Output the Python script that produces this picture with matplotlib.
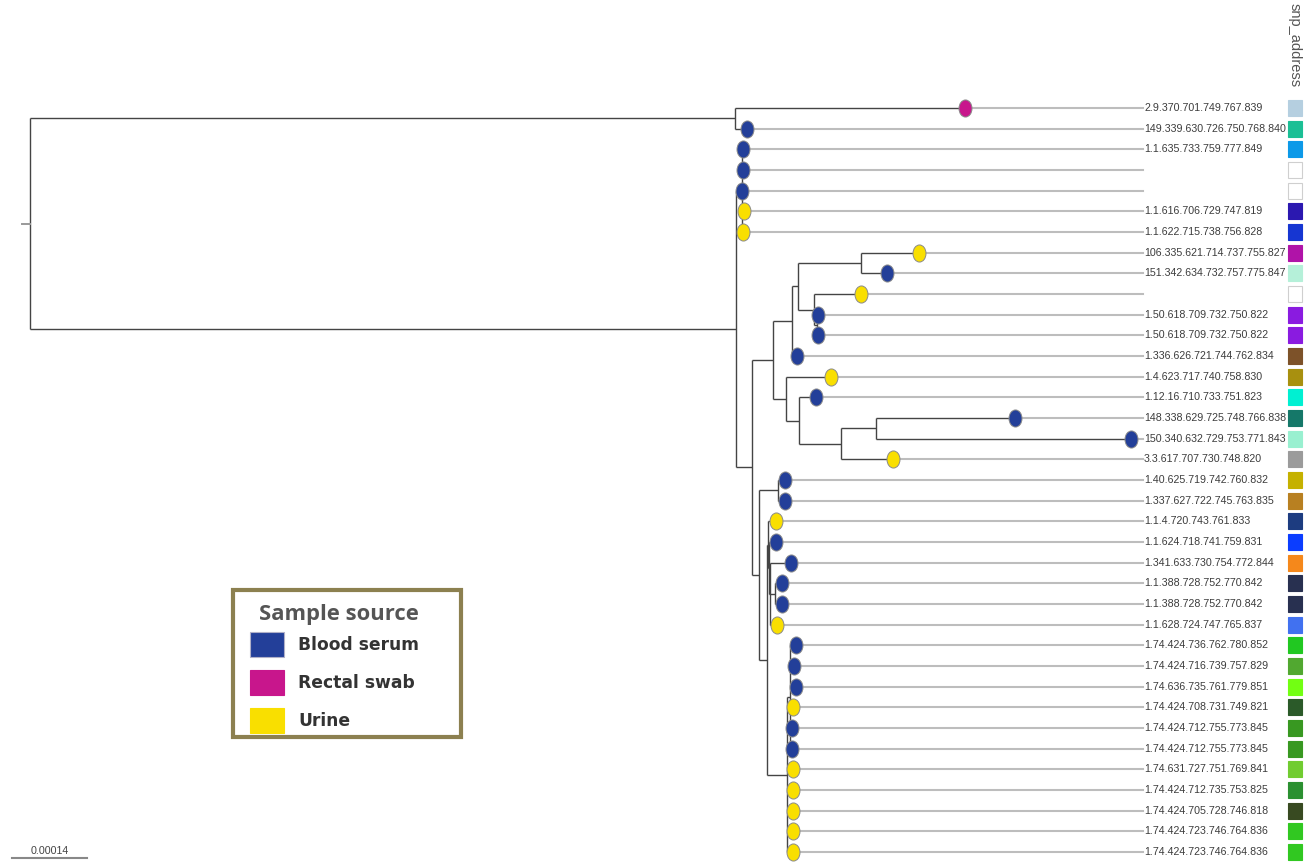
"""Phylogenetic tree of isolates with sample source and snp_address strip."""

import matplotlib
matplotlib.use("Agg")
import matplotlib.pyplot as plt
from matplotlib import font_manager
from matplotlib.path import Path
from matplotlib.patches import Rectangle
from matplotlib.transforms import Affine2D, blended_transform_factory

# tree topology, branch lengths in 1e-6 substitutions/site, leaves numbered top to bottom
NEWICK = """
((1:429,2:22):1316,
 ((3:2,4:2,5:0,6:4,7:2):11,
  (((((8:108,9:49):118,(10:88,(11:2,12:2):6):30):11,13:9):35,
     (14:84,(15:32,((16:259,17:476):67,18:97):78):24):24):39,
    ((19:13,20:13):35,
     ((21:15,(22:13,(23:39,(24:13,25:13):9,26:13):2):2):2,
      ((27:11,28:7,29:11,30:6,31:4,32:4):6,33:11,34:11,35:11,36:11,37:11):37):15):13):30):1318);
"""
BL_UNIT = 1e-6

leaf_labels = [
    "2.9.370.701.749.767.839", "149.339.630.726.750.768.840", "1.1.635.733.759.777.849",
    "", "", "1.1.616.706.729.747.819", "1.1.622.715.738.756.828",
    "106.335.621.714.737.755.827", "151.342.634.732.757.775.847", "",
    "1.50.618.709.732.750.822", "1.50.618.709.732.750.822", "1.336.626.721.744.762.834",
    "1.4.623.717.740.758.830", "1.12.16.710.733.751.823", "148.338.629.725.748.766.838",
    "150.340.632.729.753.771.843", "3.3.617.707.730.748.820", "1.40.625.719.742.760.832",
    "1.337.627.722.745.763.835", "1.1.4.720.743.761.833", "1.1.624.718.741.759.831",
    "1.341.633.730.754.772.844", "1.1.388.728.752.770.842", "1.1.388.728.752.770.842",
    "1.1.628.724.747.765.837", "1.74.424.736.762.780.852", "1.74.424.716.739.757.829",
    "1.74.636.735.761.779.851", "1.74.424.708.731.749.821", "1.74.424.712.755.773.845",
    "1.74.424.712.755.773.845", "1.74.631.727.751.769.841", "1.74.424.712.735.753.825",
    "1.74.424.705.728.746.818", "1.74.424.723.746.764.836", "1.74.424.723.746.764.836",
]

# B = blood serum, R = rectal swab, U = urine
leaf_source = list("RBBBBUUUBUBBBUBBBUBBUBBBBUBBBUBBUUUUU")

snp_colors = [
    "#b5cfe0", "#1bbf95", "#0c99e8", "#ffffff", "#ffffff", "#2b18b0", "#1636d2",
    "#b013a8", "#b5f0d9", "#ffffff", "#8a1be0", "#8a1be0", "#7d5229", "#a8900f",
    "#00f0d2", "#157869", "#99f0d0", "#9b9b9b", "#c5b100", "#b88021", "#1d3c80",
    "#0b3dff", "#f5881b", "#283050", "#283050", "#4171f0", "#21c821", "#51a830",
    "#72ff12", "#2b5a29", "#389821", "#389821", "#71cc31", "#2b9031", "#384a21",
    "#31c821", "#31c821",
]

legend_title = "Sample source"
legend_names = ["Blood serum", "Rectal swab", "Urine"]
source_keys = ["B", "R", "U"]
source_colors = ["#233f99", "#c8168c", "#f9df00"]
scale_len = 0.00014


def parse_newick(s):
    s = "".join(s.split())
    pos = 0

    def node():
        nonlocal pos
        children = []
        if s[pos] == "(":
            pos += 1
            while True:
                children.append(node())
                if s[pos] == ",":
                    pos += 1
                    continue
                pos += 1
                break
        start = pos
        while s[pos] not in ",):;":
            pos += 1
        name = s[start:pos]
        length = 0.0
        if s[pos] == ":":
            pos += 1
            start = pos
            while s[pos] not in ",);":
                pos += 1
            length = float(s[start:pos])
        return {"name": name, "len": length * BL_UNIT, "children": children}

    return node()


def layout(nd, x0=0.0):
    nd["x"] = x0 + nd["len"]
    if nd["children"]:
        for c in nd["children"]:
            layout(c, nd["x"])
        nd["y"] = (nd["children"][0]["y"] + nd["children"][-1]["y"]) / 2
    else:
        nd["y"] = int(nd["name"]) - 1


def leaves(nd):
    if not nd["children"]:
        return [nd]
    out = []
    for c in nd["children"]:
        out += leaves(c)
    return out


root = parse_newick(NEWICK)
root["len"] = 0.0
layout(root)

W, H = 1313, 863
fig = plt.figure(figsize=(W / 100, H / 100), dpi=100)
ax = fig.add_axes([0, 0, 1, 1])
ax.axis("off")

px_per_unit = 75 / scale_len
root_px = 30
ax.set_xlim(-root_px / px_per_unit, (W - root_px) / px_per_unit)
row_px, first_px = 20.67, 108
ax.set_ylim((H - first_px) / row_px, -first_px / row_px)

x0, x1 = ax.get_xlim()
label_frac = 1143 / W
label_x = x0 + label_frac * (x1 - x0)

# narrow font for tip labels if present
try:
    font_manager.findfont("Liberation Sans Narrow", fallback_to_default=False)
    label_family, label_size = "Liberation Sans Narrow", 9.1
except Exception:
    label_family, label_size = "Liberation Sans", 7.7

branch_col = "#444444"


def draw(nd):
    if not nd["children"]:
        return
    ys = [c["y"] for c in nd["children"]]
    ax.plot([nd["x"], nd["x"]], [min(ys), max(ys)], color=branch_col, lw=1.0,
            solid_capstyle="butt", zorder=2)
    for c in nd["children"]:
        ax.plot([nd["x"], c["x"]], [c["y"], c["y"]], color=branch_col, lw=1.0,
                solid_capstyle="butt", zorder=2)
        draw(c)


draw(root)
ax.plot([root["x"] - 8 / px_per_unit, root["x"]], [root["y"], root["y"]],
        color="#999999", lw=1.4, zorder=2)

# tips: guide lines, dots, labels
ellipse = Path.unit_circle().transformed(Affine2D().scale(0.76, 1.0))
tips = leaves(root)
for lf in tips:
    i = int(lf["name"]) - 1
    ax.plot([lf["x"], label_x], [lf["y"], lf["y"]], color="#bdbdbd", lw=1.5, zorder=1)
    col = source_colors[source_keys.index(leaf_source[i])]
    ax.plot(lf["x"], lf["y"], marker=ellipse, ms=12.3, mfc=col, mec="#8a8a8a",
            mew=0.7, zorder=3, ls="none")
    if leaf_labels[i]:
        ax.text(label_x + 1 / px_per_unit, lf["y"], leaf_labels[i], fontsize=label_size,
                family=[label_family, "DejaVu Sans"], color="#3c3c3c",
                va="center", ha="left")

# snp_address colour strip
strip_tr = blended_transform_factory(ax.transAxes, ax.transData)
box_h = 16 / row_px
for i, c in enumerate(snp_colors):
    edge = "#cfcfcf" if c == "#ffffff" else c
    ax.add_patch(Rectangle((1288 / W, i - box_h / 2), 14 / W, box_h, facecolor=c,
                           edgecolor=edge, lw=0.8, transform=strip_tr, zorder=3))
fig.text(1295 / W, 1 - 3 / H, "snp_address", rotation=270, fontsize=10.5,
         color="#555555", ha="center", va="top", family="Liberation Sans")

# legend box
def fx(px):
    return px / W


def fy(py):
    return 1 - py / H


for k, (name, col) in enumerate(zip(legend_names, source_colors)):
    top = 632 + k * 38
    fig.patches.append(Rectangle((fx(250), fy(top + 25)), fx(34), 25 / H, facecolor=col,
                                 edgecolor="#b0b0c8" if k == 0 else col, lw=0.8,
                                 transform=fig.transFigure, zorder=4))
    fig.text(fx(298), fy(top + 12.5), name, fontsize=12.3, fontweight="bold",
             color="#333333", va="center", ha="left", family="DejaVu Sans")
fig.patches.append(Rectangle((fx(233), fy(737)), fx(228), (737 - 590) / H, facecolor="none",
                             edgecolor="#8c8050", lw=3.0, transform=fig.transFigure,
                             zorder=5))
fig.text(fx(259), fy(614), legend_title, fontsize=15.8, fontweight="bold",
         color="#555555", va="center", ha="left", family=["Open Sans", "DejaVu Sans"])

# scale bar
sb_y = (858 - first_px) / row_px
sb_x = -18 / px_per_unit
ax.plot([sb_x, sb_x + scale_len], [sb_y, sb_y], color="#888888", lw=1.5, clip_on=False)
ax.text(sb_x + scale_len / 2, sb_y - 0.1, "0.00014", fontsize=label_size,
        family=[label_family, "DejaVu Sans"], color="#444444", ha="center", va="bottom")

fig.savefig("out.png", dpi=100)
